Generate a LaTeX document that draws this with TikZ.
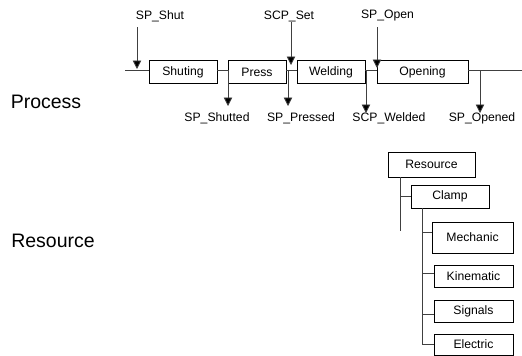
\documentclass[tikz,border=0pt]{standalone}
\usepackage{fontspec}
\setmainfont{Liberation Sans}
\usetikzlibrary{arrows.meta}
\begin{document}
\begin{tikzpicture}[x=1pt,y=-1pt,
  box/.style={draw=black,line width=0.8pt,minimum height=22.5pt,inner sep=0pt,font=\fontsize{12.2}{14}\selectfont},
  lab/.style={inner sep=0pt,font=\fontsize{12.2}{14}\selectfont},
  big/.style={inner sep=0pt,font=\fontsize{19.5}{22}\selectfont},
  ln/.style={draw=black!75,line width=0.8pt},
  arr/.style={ln,-{Triangle[width=8.5pt,length=8.5pt,fill=black]}}]
\useasboundingbox (0,0) rectangle (522,356);
% labels
\node[big] (proc) at (46,102) {Process};
\node[big] (resl) at (53,241) {Resource};
% process boxes
\node[box,minimum width=68pt] (shut) at (183,72) {Shuting};
\node[box,minimum width=58pt] (press) at (257,72) {Press};
\node[box,minimum width=68pt] (weld) at (331,72) {Welding};
\node[box,minimum width=91pt] (open) at (422.5,72) {Opening};
\coordinate (l0) at (125,70);
\coordinate (l1) at (522,70);
\draw[ln] (l0) -- (l0 -| shut.west);
\draw[ln] ([yshift=2pt]shut.east) -- ([yshift=2pt]press.west);
\draw[ln] ([yshift=2pt]press.east) -- ([yshift=2pt]weld.west);
\draw[ln] ([yshift=2pt]weld.east) -- ([yshift=2pt]open.west);
\draw[ln] ([yshift=2pt]open.east) -- (l1);
% top labels and arrows
\node[lab] (spshut) at (160,16) {SP\_Shut};
\node[lab] (scpset) at (289,16) {SCP\_Set};
\node[lab] (spopen) at (387.5,16) {SP\_Open};
\coordinate (t1s) at (137,27); \coordinate (t1) at (137,69);
\coordinate (t2s) at (291,22); \coordinate (t2) at (291,65);
\coordinate (t3s) at (377,27); \coordinate (t3) at (377,68);
\draw[arr] (t1s) -- (t1);
\draw[arr] (t2s) -- (t2);
\draw[arr] (t3s) -- (t3);
% bottom labels and arrows
\node[lab] (spshutted) at (217,118) {SP\_Shutted};
\node[lab] (sppressed) at (301,118) {SP\_Pressed};
\node[lab] (scpwelded) at (389,118) {SCP\_Welded};
\node[lab] (spopened) at (482,118) {SP\_Opened};
\coordinate (b1s) at (228,70); \coordinate (b1) at (228,106);
\coordinate (b2s) at (288,70); \coordinate (b2) at (288,106);
\coordinate (b3s) at (366,70); \coordinate (b3) at (366,113);
\coordinate (b4s) at (480,70); \coordinate (b4) at (480,113);
\draw[arr] (b1s) -- (b1);
\draw[arr] (b2s) -- (b2);
\draw[arr] (b3s) -- (b3);
\draw[arr] (b4s) -- (b4);
% resource tree
\node[box,minimum width=87pt,minimum height=25pt] (res) at (431.5,164.5) {Resource};
\node[box,minimum width=78pt,minimum height=23pt] (clamp) at (450,196.5) {Clamp};
\node[box,minimum width=81pt,minimum height=31pt] (mech) at (472.5,237.5) {Mechanic};
\node[box,minimum width=79pt,minimum height=22pt] (kin) at (473.5,276) {Kinematic};
\node[box,minimum width=79pt,minimum height=22pt] (sig) at (473.5,311) {Signals};
\node[box,minimum width=79pt,minimum height=21pt] (elec) at (473.5,344.5) {Electric};
\coordinate (rv) at (400,231);
\draw[ln] (res.south -| rv) -- (rv);
\draw[ln] (clamp.west) -- (clamp.west -| rv);
\coordinate (cv) at (422,344.5);
\draw[ln] (clamp.south -| cv) -- (cv) -- (elec.west);
\draw[ln] ([yshift=5.5pt]mech.west) -- ([yshift=5.5pt]mech.west -| cv);
\draw[ln] ([yshift=3pt]kin.west) -- ([yshift=3pt]kin.west -| cv);
\draw[ln] ([yshift=-3pt]sig.west) -- ([yshift=-3pt]sig.west -| cv);
\end{tikzpicture}
\end{document}
